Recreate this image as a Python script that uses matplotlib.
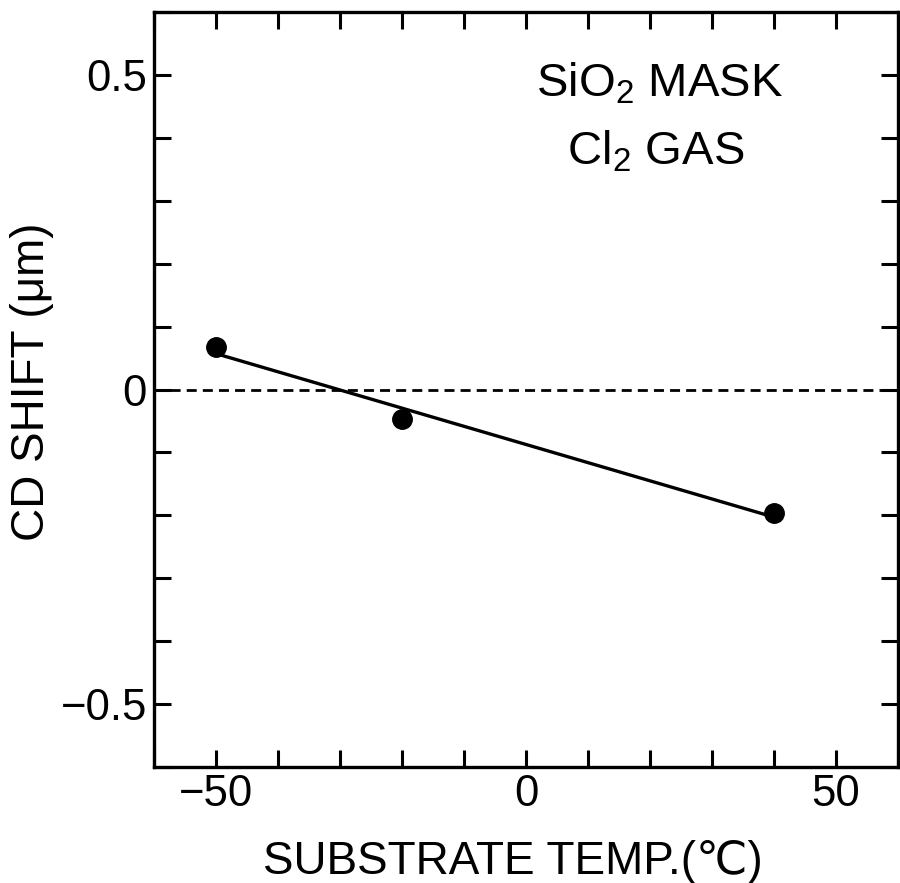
import matplotlib
matplotlib.use("Agg")
import matplotlib.pyplot as plt
from matplotlib import font_manager

# ---- data ----
temp_c = [-50, -20, 40]
cd_shift_um = [0.068, -0.047, -0.197]
fit_x = [-50, 39]
fit_y = [0.057, -0.200]
x_ticks = [-60, -50, -40, -30, -20, -10, 0, 10, 20, 30, 40, 50, 60]
x_tick_labels = ["", "\u221250", "", "", "", "", "0", "", "", "", "", "50", ""]
y_ticks = [-0.6, -0.5, -0.4, -0.3, -0.2, -0.1, 0.0, 0.1, 0.2, 0.3, 0.4, 0.5, 0.6]
y_tick_labels = ["", "\u22120.5", "", "", "", "", "0", "", "", "", "", "0.5", ""]
x_label = "SUBSTRATE TEMP.(\u2103)"
y_label = "CD SHIFT (\u03bcm)"
note1 = r"SiO$_{\mathrm{2}}$ MASK"
note2 = r"Cl$_{\mathrm{2}}$ GAS"

names = {f.name for f in font_manager.fontManager.ttflist}
fam = "Liberation Sans Narrow" if "Liberation Sans Narrow" in names else "Liberation Sans"
plt.rcParams["font.family"] = [fam, "DejaVu Sans"]
plt.rcParams["mathtext.fontset"] = "custom"
plt.rcParams["mathtext.rm"] = fam
plt.rcParams["mathtext.it"] = fam

fig = plt.figure(figsize=(9.0, 8.83), dpi=100)
ax = fig.add_axes([154/900, (883-767)/883, (898-154)/900, (767-12)/883])

ax.set_xlim(-60, 60)
ax.set_ylim(-0.6, 0.6)

# zero reference line
ax.plot([-60, 60], [0, 0], color="black", lw=2.0, dashes=(3.6, 2.2))
# fit line
ax.plot(fit_x, fit_y, color="black", lw=2.4, solid_capstyle="butt")
# data points
ax.plot(temp_c, cd_shift_um, "o", color="black", markersize=14, zorder=5)

ax.set_xticks(x_ticks)
ax.set_xticklabels(x_tick_labels)
ax.set_yticks(y_ticks)
ax.set_yticklabels(y_tick_labels)
ax.tick_params(direction="in", length=12, width=2.2, top=True, right=True,
               labelsize=31.5, pad=5)
for s in ax.spines.values():
    s.set_linewidth(2.4)

ax.set_xlabel(x_label, fontsize=33)
ax.xaxis.set_label_coords(0.483, -0.097)
ax.set_ylabel(y_label, fontsize=33)
ax.yaxis.set_label_coords(-0.135, 0.51)

ax.text(0.68, 0.905, note1, transform=ax.transAxes, ha="center", va="center", fontsize=34)
ax.text(0.674, 0.815, note2, transform=ax.transAxes, ha="center", va="center", fontsize=34)

fig.savefig("out.png", dpi=100)
